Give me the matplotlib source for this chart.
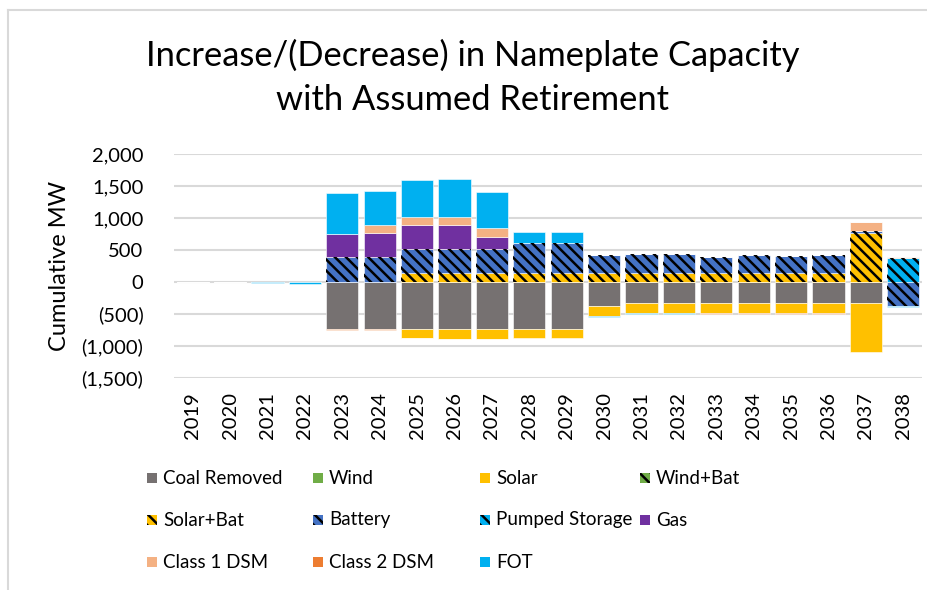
import matplotlib
matplotlib.use("Agg")
import matplotlib.pyplot as plt
import numpy as np
from matplotlib.patches import Rectangle
from matplotlib.lines import Line2D
from matplotlib.ticker import FuncFormatter

plt.rcParams['font.family'] = ['Lato', 'DejaVu Sans']
plt.rcParams['hatch.linewidth'] = 1.8

years = [str(y) for y in range(2019, 2039)]

coal_removed = [0, 0, 0, 0, -740, -740, -735, -735, -735, -735, -735, -375, -333, -333, -333, -333, -333, -333, -333, 0]
wind = [0] * 20
solar = [0, 0, 0, 0, 0, 0, -135, -150, -150, -140, -140, -150, -157, -157, -157, -157, -157, -157, -767, 0]
wind_bat = [0] * 20
solar_bat = [0, 0, 0, 0, 0, 0, 135, 135, 135, 135, 135, 135, 135, 135, 135, 135, 135, 135, 760, 0]
battery = [0, 0, 0, 0, 390, 390, 380, 385, 385, 470, 470, 287, 295, 297, 255, 280, 275, 290, 37, -370]
pumped_storage = [0] * 19 + [380]
gas = [0, 0, 0, 0, 365, 370, 370, 370, 188, 0, 0, 0, 0, 0, 0, 0, 0, 0, 0, 0]
class1_dsm = [0, 0, 0, 0, 0, 125, 130, 130, 136, 10, 10, 0, 0, 0, 0, 0, 0, 0, 140, 8]
class2_dsm = [0, 0, 0, 0, -5, -5, -5, -5, -5, 0, 0, 5, 5, 5, -5, -5, -5, -5, 0, 0]
fot = [0, 0, -20, -35, 630, 542, 580, 585, 567, 166, 166, -15, -12, -12, 8, 8, 0, 0, 0, -15]

series_names = ["Coal Removed", "Wind", "Solar", "Wind+Bat", "Solar+Bat", "Battery",
                "Pumped Storage", "Gas", "Class 1 DSM", "Class 2 DSM", "FOT"]
series_values = [coal_removed, wind, solar, wind_bat, solar_bat, battery,
                 pumped_storage, gas, class1_dsm, class2_dsm, fot]
series_colors = ["#767171", "#70AD47", "#FFC000", "#70AD47", "#FFC000", "#4472C4",
                 "#00B0F0", "#7030A0", "#F4B183", "#ED7D31", "#00B0F0"]
series_hatched = [False, False, False, True, True, True, True, False, False, False, False]
HATCH = '\\\\\\'

W, H = 928, 590
fig = plt.figure(figsize=(W / 100, H / 100), dpi=100)

ax_left, ax_right, ax_top, ax_bottom = 174, 922, 154, 378
ax = fig.add_axes([ax_left / W, 1 - ax_bottom / H, (ax_right - ax_left) / W, (ax_bottom - ax_top) / H])

x = np.arange(len(years))
pos_base = np.zeros(len(years))
neg_base = np.zeros(len(years))
bw = 0.86
for name, vals, col, hat in zip(series_names, series_values, series_colors, series_hatched):
    v = np.array(vals, dtype=float)
    bottoms = np.where(v >= 0, pos_base, neg_base)
    ax.bar(x, v, bw, bottom=bottoms, color=col, edgecolor='white', linewidth=0.4, zorder=3)
    if hat:
        ax.bar(x, v, bw, bottom=bottoms, color='none', edgecolor='black', linewidth=0,
               hatch=HATCH, zorder=4)
    pos_base = pos_base + np.where(v > 0, v, 0)
    neg_base = neg_base + np.where(v < 0, v, 0)

ax.set_xlim(-0.5, len(years) - 0.5)
ax.set_ylim(-1500, 2000)
ax.set_yticks(np.arange(-1500, 2001, 500))
ax.yaxis.set_major_formatter(FuncFormatter(lambda v, p: f"({abs(v):,.0f})" if v < 0 else f"{v:,.0f}"))
ax.grid(axis='y', color='#D9D9D9', linewidth=1.5, zorder=0)
ax.set_axisbelow(True)
for s in ax.spines.values():
    s.set_visible(False)
ax.tick_params(axis='both', length=0, colors='black')
ax.tick_params(axis='y', pad=22, labelsize=14.5)
ax.tick_params(axis='x', pad=10, labelsize=14.5)
ax.set_xticks(x)
ax.set_xticklabels(years, rotation=90)
ax.set_ylabel("Cumulative MW", fontsize=17, labelpad=8)

fig.text(473 / W, 1 - 55 / H, "Increase/(Decrease) in Nameplate Capacity", ha='center', va='center', fontsize=24.8)
fig.text(473 / W, 1 - 100 / H, "with Assumed Retirement", ha='center', va='center', fontsize=24.8)

# legend
col_x = [147, 313, 480, 640]
row_y = [478, 520, 562]
sq = 10
for i, (name, col, hat) in enumerate(zip(series_names, series_colors, series_hatched)):
    r, c = divmod(i, 4)
    px, py = col_x[c], row_y[r]
    fig.patches.append(Rectangle((px / W, 1 - (py + sq / 2) / H), sq / W, sq / H,
                                 transform=fig.transFigure, facecolor=col, edgecolor='none'))
    if hat:
        fig.patches.append(Rectangle((px / W, 1 - (py + sq / 2) / H), sq / W, sq / H,
                                     transform=fig.transFigure, facecolor='none', edgecolor='black',
                                     linewidth=0, hatch=HATCH))
    fig.text((px + 16) / W, 1 - py / H, name, ha='left', va='center', fontsize=13.5)

# chart border
fig.add_artist(Line2D([8 / W, 1], [1 - 10 / H, 1 - 10 / H], color='#D9D9D9', lw=1.5, transform=fig.transFigure))
fig.add_artist(Line2D([8 / W, 8 / W], [0, 1 - 10 / H], color='#D9D9D9', lw=1.5, transform=fig.transFigure))

fig.savefig("out.png", dpi=100)
